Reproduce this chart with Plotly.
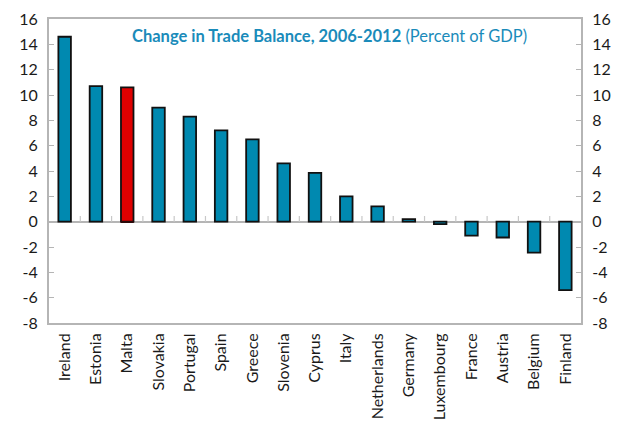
import plotly.graph_objects as go

countries = ["Ireland", "Estonia", "Malta", "Slovakia", "Portugal", "Spain", "Greece",
             "Slovenia", "Cyprus", "Italy", "Netherlands", "Germany", "Luxembourg",
             "France", "Austria", "Belgium", "Finland"]
values = [14.6, 10.7, 10.6, 9.0, 8.3, 7.2, 6.5, 4.6, 3.85, 2.0, 1.2, 0.2, -0.2,
          -1.1, -1.25, -2.45, -5.4]
malta_adj = [0, 0, -0.1, 0, 0, 0, 0, 0, 0, 0, 0, 0, 0, 0, 0, 0, 0]
highlight = "Malta"
y_ticks = list(range(-8, 17, 2))
y_ticktext = [str(v) for v in y_ticks]

blue = "#0089B0"
red = "#E00000"
colors = [red if c == highlight else blue for c in countries]

fig = go.Figure()
fig.add_trace(go.Bar(x=countries, y=values, marker=dict(color=colors, line=dict(color="#111111", width=1.8)),
                     width=0.4, showlegend=False, hoverinfo="x+y"))
fig.add_trace(go.Bar(x=countries, y=malta_adj, marker=dict(color="#2a0a0a", line=dict(width=0)),
                     width=0.42, showlegend=False, hoverinfo="skip"))
fig.add_trace(go.Scatter(x=[countries[0]], y=[0], yaxis="y2", mode="markers",
                         marker=dict(opacity=0), showlegend=False, hoverinfo="skip"))

shapes = []
for i in range(len(countries) - 1):
    shapes.append(dict(type="line", xref="x", yref="y", x0=i + 0.5, x1=i + 0.5, y0=0, y1=0.45,
                       line=dict(color="#C8C8C8", width=1.2)))

axis_font = dict(family="Lato, Open Sans, sans-serif", size=16, color="#1a1a1a")
fig.update_layout(
    width=626, height=426,
    margin=dict(l=49, r=45, t=19, b=103, autoexpand=False),
    paper_bgcolor="white", plot_bgcolor="white",
    barmode="relative",
    bargap=0.6,
    shapes=shapes,
    font=axis_font,
    xaxis=dict(showline=True, linecolor="#B5B5B5", linewidth=2, mirror=True, automargin=False,
               ticks="", tickangle=-90, tickfont=axis_font, showgrid=False,
               range=[-0.5, len(countries) - 0.5], ticklabelstandoff=2),
    yaxis=dict(range=[-8, 16], tickvals=y_ticks, ticktext=y_ticktext, showgrid=False, showline=True,
               automargin=False,
               linecolor="#B5B5B5", linewidth=2, ticks="inside", ticklen=5,
               tickcolor="#B5B5B5", zeroline=True, zerolinecolor="#B5B5B5", zerolinewidth=2,
               tickfont=axis_font, ticklabelstandoff=6),
    yaxis2=dict(range=[-8, 16], tickvals=y_ticks, ticktext=y_ticktext, overlaying="y", side="right",
                showgrid=False,
                showline=True, linecolor="#B5B5B5", linewidth=2, ticks="inside", ticklen=5,
                automargin=False,
                tickcolor="#B5B5B5", zeroline=False, tickfont=axis_font, ticklabelstandoff=6),
    annotations=[dict(xref="paper", yref="paper", x=0.528, y=0.945, xanchor="center", yanchor="middle",
                      showarrow=False,
                      text="<b>Change in Trade Balance, 2006-2012</b> (Percent of GDP)",
                      font=dict(family="Lato, Open Sans, sans-serif", size=16.5, color="#1A8BBA"))],
)

fig.write_html("out.html", config={"displayModeBar": False},
               post_script="document.body.style.margin='0';document.body.style.overflow='hidden';")
